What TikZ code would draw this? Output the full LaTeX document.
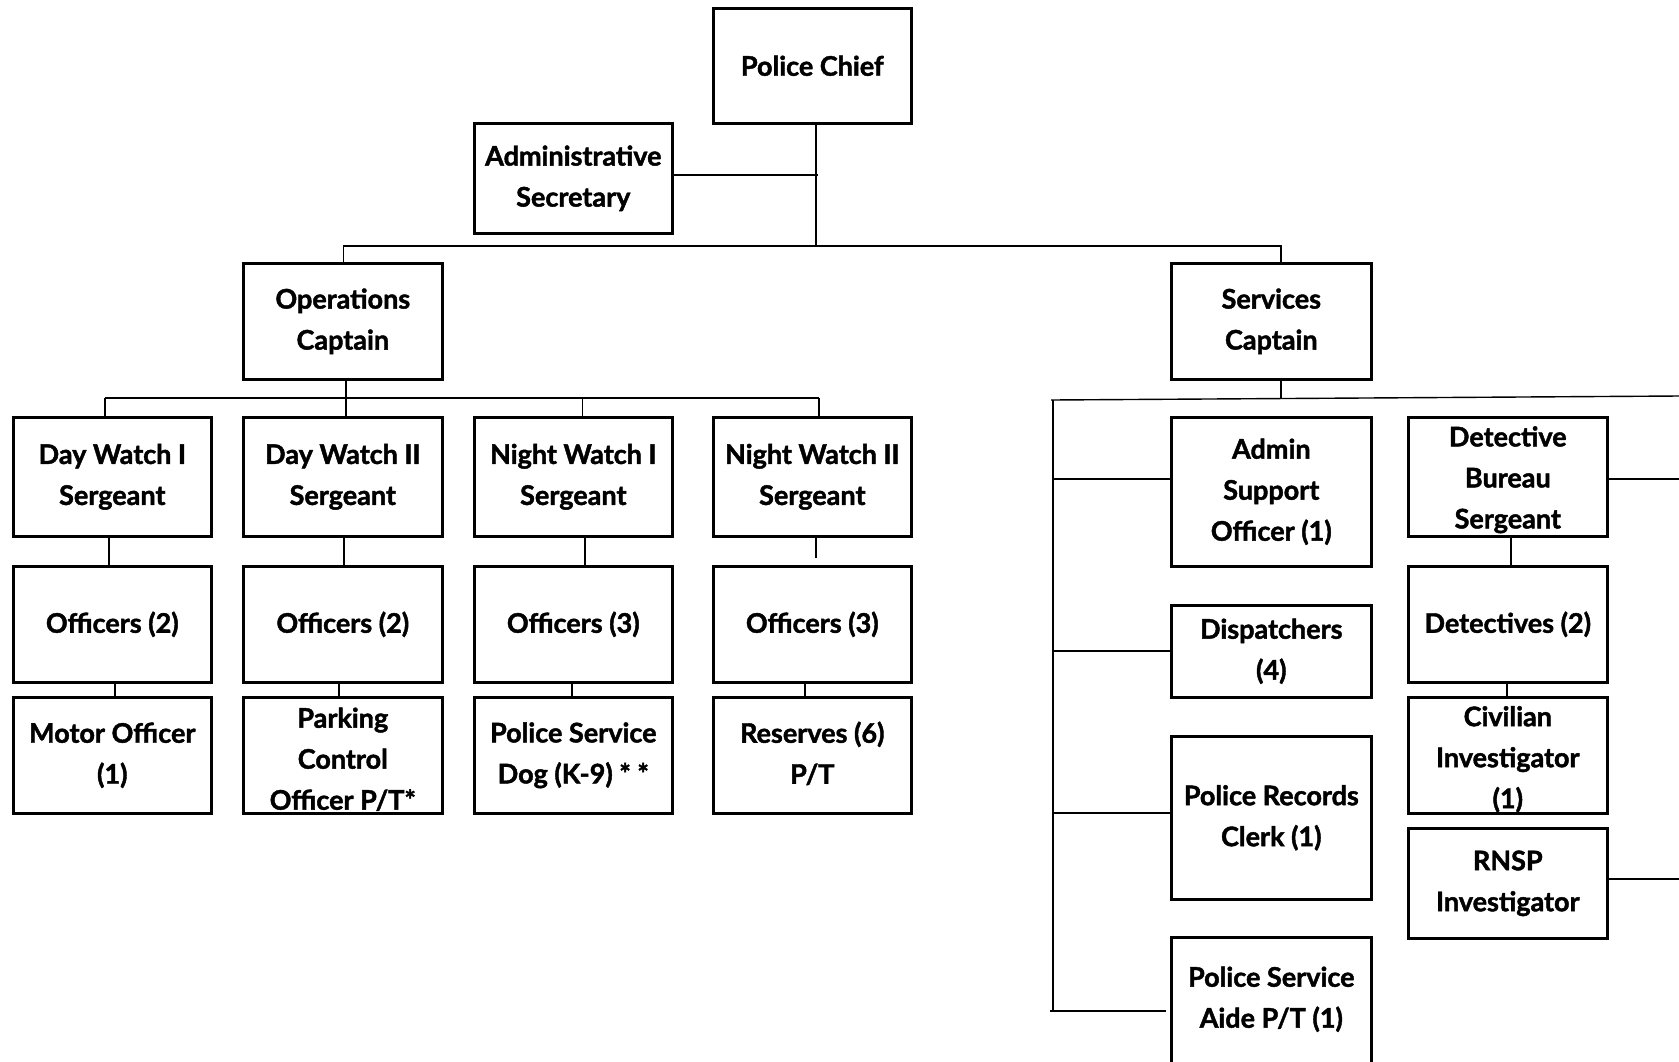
\documentclass[tikz,border=0pt]{standalone}
\usepackage{fontspec}
\setmainfont{Lato}[BoldFeatures={FakeBold=1.6}]
\begin{document}
\begin{tikzpicture}[x=1pt,y=-1pt]
\tikzset{
  box/.style={draw, line width=2.6pt, inner sep=0pt, anchor=north west},
  lbl/.style={font=\fontsize{27}{41}\selectfont\bfseries, align=center, inner sep=0pt},
  conn/.style={line width=1.4pt}
}
\useasboundingbox[fill=white] (0,0) rectangle (1679,1061);
\clip (0,0) rectangle (1679,1061);
\newcommand{\obox}[7][0]{%
  \pgfmathsetmacro\bw{#5-#3}\pgfmathsetmacro\bh{#6-#4}%
  \node[box, minimum width=\bw pt, minimum height=\bh pt] (#2) at (#3,#4) {};
  \node[lbl] (#2-t) at ([yshift=-#1pt]#2.center) {#7};}
% boxes
\obox{pc}{712}{7}{910}{122}{Police Chief}
\obox{as}{473}{122}{671}{232}{Administrative\\Secretary}
\obox{ops}{242}{262}{441}{378}{Operations\\Captain}
\obox{svc}{1170}{262}{1370}{378}{Services\\Captain}
\obox{dw1}{12}{416}{210}{535}{Day Watch I\\Sergeant}
\obox{dw2}{242}{416}{441}{535}{Day Watch II\\Sergeant}
\obox{nw1}{473}{416}{671}{535}{Night Watch I\\Sergeant}
\obox{nw2}{712}{416}{910}{535}{Night Watch II\\Sergeant}
\obox{o1}{12}{565}{210}{681}{Officers (2)}
\obox{o2}{242}{565}{441}{681}{Officers (2)}
\obox{o3}{473}{565}{671}{681}{Officers (3)}
\obox{o4}{712}{565}{910}{681}{Officers (3)}
\obox{b1}{12}{696}{210}{812}{Motor Officer\\(1)}
\obox[4]{b2}{242}{696}{441}{812}{Parking\\Control\\Officer P/T*}
\obox{b3}{473}{696}{671}{812}{Police Service\\Dog (K-9) * *}
\obox[-2]{b4}{712}{696}{910}{812}{Reserves (6)\\P/T}
\obox{asup}{1170}{416}{1370}{565}{Admin\\Support\\Officer (1)}
\obox{disp}{1170}{604}{1370}{696}{Dispatchers\\(4)}
\obox{prc}{1170}{735}{1370}{898}{Police Records\\Clerk (1)}
\obox[-2]{psa}{1170}{936}{1370}{1064}{Police Service\\Aide P/T (1)}
\obox[3]{dbs}{1407}{416}{1606}{535}{Detective\\Bureau\\Sergeant}
\obox{det}{1407}{565}{1606}{681}{Detectives (2)}
\obox[4]{civ}{1407}{696}{1606}{812}{Civilian\\Investigator\\(1)}
\obox{rnsp}{1407}{827}{1606}{937}{RNSP\\Investigator}
% junction coordinates
\coordinate (top) at (816,246);
\coordinate (opsbar) at (346,398);
\coordinate (svcbar) at (1281,398);
% chief and secretary
\draw[conn] (top |- pc.south) -- (top);
\draw[conn] (as.east |- 0,175) -- ([xshift=2pt]top |- 0,175);
% top bar
\draw[conn] ([xshift=0.5pt]ops.north) -- ([xshift=0.5pt]ops.north |- top) -- (top -| svcbar) -- (svcbar |- svc.north);
% operations
\draw[conn] (opsbar |- ops.south) -- (opsbar);
\draw[conn] (105,398) -- (819,398);
\draw[conn] (105,398) -- (105,0 |- dw1.north);
\draw[conn] (opsbar) -- (opsbar |- dw2.north);
\draw[conn] (582.5,398) -- (582.5,0 |- nw1.north);
\draw[conn] (819,398) -- (819,0 |- nw2.north);
\draw[conn] (109,0 |- dw1.south) -- (109,0 |- o1.north);
\draw[conn] (344,0 |- dw2.south) -- (344,0 |- o2.north);
\draw[conn] (585,0 |- nw1.south) -- (585,0 |- o3.north);
\draw[conn] (816,0 |- nw2.south) -- (816,558);
\draw[conn] (115,0 |- o1.south) -- (115,0 |- b1.north);
\draw[conn] (339,0 |- o2.south) -- (339,0 |- b2.north);
\draw[conn] (572,0 |- o3.south) -- (572,0 |- b3.north);
\draw[conn] (805,0 |- o4.south) -- (805,0 |- b4.north);
% services
\draw[conn] (svcbar |- svc.south) -- (svcbar);
\draw[conn] (1051,400) -- (1679,396);
\draw[conn] (1053,400) -- (1053,1011);
\draw[conn] (1053,479) -- (asup.west |- 0,479);
\draw[conn] (1053,651) -- (disp.west |- 0,651);
\draw[conn] (1053,813) -- (prc.west |- 0,813);
\draw[conn] (1050,1011) -- (1166,1011);
\draw[conn] (dbs.east |- 0,479) -- (1679,479);
\draw[conn] (rnsp.east |- 0,879) -- (1679,879);
\draw[conn] (1511,0 |- dbs.south) -- (1511,0 |- det.north);
\draw[conn] (1507,0 |- det.south) -- (1507,0 |- civ.north);
\end{tikzpicture}
\end{document}
